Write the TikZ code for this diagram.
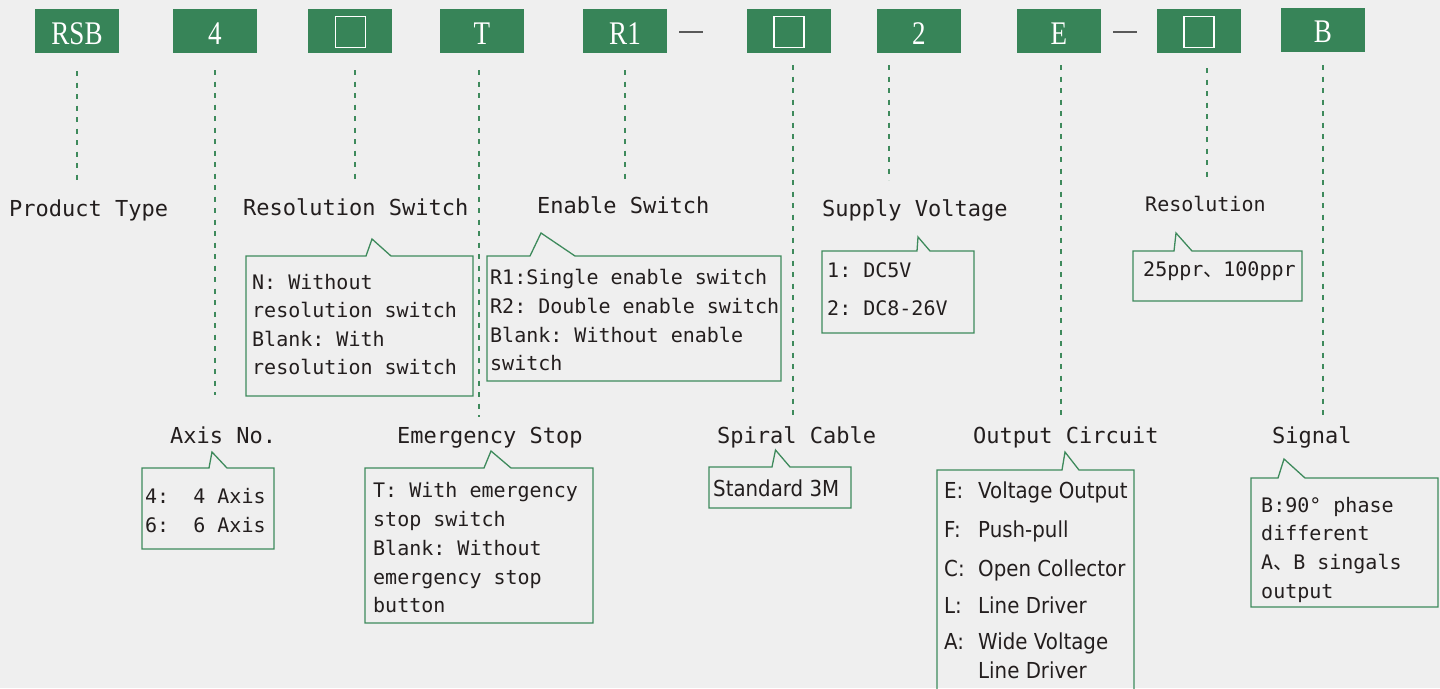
\documentclass[tikz,border=0pt]{standalone}
\usepackage{fontspec}
\setmonofont{DejaVu Sans Mono}
\newfontfamily\condf[FakeStretch=0.9]{DejaVu Sans}
\newfontfamily\hdrf[FakeStretch=0.82]{Liberation Serif}
\newfontfamily\cjk{Noto Sans CJK SC}
\definecolor{bg}{RGB}{239,239,239}
\definecolor{grn}{RGB}{55,132,88}
\definecolor{lgrn}{RGB}{62,138,92}
\definecolor{ink}{RGB}{35,30,30}
\tikzset{
 hdr/.style={fill=grn, minimum width=84pt, minimum height=44pt, inner sep=0pt, text=white,
   text height=26pt, text depth=0pt, font=\hdrf\fontsize{33}{33}\selectfont},
 conn/.style={draw=lgrn, line width=1.3pt, dash pattern=on 5pt off 6.5pt},
 ttl/.style={anchor=base west, inner sep=0pt, text=ink, font=\ttfamily\fontsize{22}{26}\selectfont},
 txt/.style={anchor=base west, inner sep=0pt, text=ink, font=\ttfamily\fontsize{20}{24}\selectfont},
 ctxt/.style={anchor=base west, inner sep=0pt, text=ink, font=\condf\fontsize{22}{26}\selectfont},
 call/.style={draw=lgrn, line width=1.3pt, line join=miter},
 sq/.style={draw=white, line width=1.6pt, minimum width=30pt, minimum height=31pt, inner sep=0pt},
 sepline/.style={draw=black!65, line width=1.6pt}
}
\newcommand\callbox[8]{\draw[call] (#1,#4) -- (#1,#2) -- (#5,#2) -- (#6,#7) -- (#8,#2) -- (#3,#2) -- (#3,#4) -- cycle;}
\begin{document}
\begin{tikzpicture}[x=1pt,y=-1pt]
\fill[bg] (0,0) rectangle (1440,688);
\useasboundingbox (0,0) rectangle (1440,688);

% header boxes
\node[hdr] (h1) at (77,31) {RSB};
\node[hdr] (h2) at (215,31) {4};
\node[hdr] (h3) at (350,31) {};
\node[sq] (s3) at (350.5,32) {};
\node[hdr] (h4) at (482,31) {T};
\node[hdr] (h5) at (625,31) {R1};
\coordinate (d1a) at (679,32); \coordinate (d1b) at (703,32);
\draw[sepline] (d1a) -- (d1b);
\node[hdr] (h6) at (789,31) {};
\node[sq] (s6) at (789,32) {};
\node[hdr] (h7) at (919,31) {2};
\node[hdr] (h8) at (1059,31) {E};
\coordinate (d2a) at (1113,32); \coordinate (d2b) at (1137,32);
\draw[sepline] (d2a) -- (d2b);
\node[hdr] (h9) at (1199,31) {};
\node[sq] (s9) at (1199,32) {};
\node[hdr] (h10) at (1323,29.5) {B};

% dashed connectors
\coordinate (a1) at (77,71);    \coordinate (b1) at (77,183);
\coordinate (a2) at (215,70);   \coordinate (b2) at (215,395);
\coordinate (a3) at (355,70);   \coordinate (b3) at (355,183);
\coordinate (a4) at (479,70);   \coordinate (b4) at (479,417);
\coordinate (a5) at (625,70);   \coordinate (b5) at (625,183);
\coordinate (a6) at (793,65);   \coordinate (b6) at (793,420);
\coordinate (a7) at (889,65);   \coordinate (b7) at (889,180);
\coordinate (a8) at (1061,65);  \coordinate (b8) at (1061,420);
\coordinate (a9) at (1207,68);  \coordinate (b9) at (1207,180);
\coordinate (a10) at (1323,65); \coordinate (b10) at (1323,420);
\foreach \i in {1,...,10} {\draw[conn] (a\i) -- (b\i);}

% titles
\node[ttl] (t1) at (9,216) {Product Type};
\node[ttl] (t3) at (243,215) {Resolution Switch};
\node[ttl] (t5) at (537,213) {Enable Switch};
\node[ttl] (t7) at (822,216) {Supply Voltage};
\node[txt] (t9) at (1145,211) {Resolution};
\node[ttl] (t2) at (170,443) {Axis No.};
\node[ttl] (t4) at (397,443) {Emergency Stop};
\node[ttl] (t6) at (717,443) {Spiral Cable};
\node[ttl] (t8) at (973,443) {Output Circuit};
\node[ttl] (t10) at (1272,443) {Signal};

% callouts
\callbox{246}{256}{473}{396}{366}{372}{239}{391}
\callbox{487}{256}{781}{381}{530}{541}{233}{575}
\callbox{822}{251}{974}{333}{917}{918}{237}{930}
\callbox{1133}{251}{1302}{301}{1174}{1176}{233}{1192}
\callbox{142}{468}{274}{549}{209}{212}{452}{227}
\callbox{365}{468}{593}{623}{484}{491}{451}{511}
\callbox{709}{467}{851}{508}{772}{775.5}{450}{790}
\callbox{937}{470}{1134}{700}{1062}{1065}{452}{1079}
\callbox{1251}{478}{1438}{607}{1278}{1284}{459}{1305}

% resolution switch text
\node[txt] (r1) at (252,289) {N: Without};
\node[txt] (r2) at (252,317) {resolution switch};
\node[txt] (r3) at (252,346) {Blank: With};
\node[txt] (r4) at (252,374) {resolution switch};
% enable switch text
\node[txt] (e1) at (490,284) {R1:Single enable switch};
\node[txt] (e2) at (490,313) {R2: Double enable switch};
\node[txt] (e3) at (490,342) {Blank: Without enable};
\node[txt] (e4) at (490,370) {switch};
% supply voltage
\node[txt] (v1) at (827,277) {1: DC5V};
\node[txt] (v2) at (827,315) {2: DC8-26V};
% resolution
\node[txt] (p1) at (1143,276) {25ppr{\cjk 、}100ppr};
% axis
\node[txt] (x1) at (145,503) {4:\ \ 4 Axis};
\node[txt] (x2) at (145,532) {6:\ \ 6 Axis};
% emergency
\node[txt] (m1) at (373,497) {T: With emergency};
\node[txt] (m2) at (373,526) {stop switch};
\node[txt] (m3) at (373,555) {Blank: Without};
\node[txt] (m4) at (373,584) {emergency stop};
\node[txt] (m5) at (373,612) {button};
% spiral
\node[ctxt] (c1) at (713,496) {Standard 3M};
% output circuit
\node[ctxt] (o1) at (944,498) {\makebox[34pt][l]{E:}Voltage Output};
\node[ctxt] (o2) at (944,537) {\makebox[34pt][l]{F:}Push-pull};
\node[ctxt] (o3) at (944,576) {\makebox[34pt][l]{C:}Open Collector};
\node[ctxt] (o4) at (944,613) {\makebox[34pt][l]{L:}Line Driver};
\node[ctxt] (o5) at (944,649) {\makebox[34pt][l]{A:}Wide Voltage};
\node[ctxt] (o6) at (978,678) {Line Driver};
% signal
\node[txt] (g1) at (1261,512) {B:90° phase};
\node[txt] (g2) at (1261,540) {different};
\node[txt] (g3) at (1261,569) {A{\cjk 、}B singals};
\node[txt] (g4) at (1261,598) {output};
\end{tikzpicture}
\end{document}
